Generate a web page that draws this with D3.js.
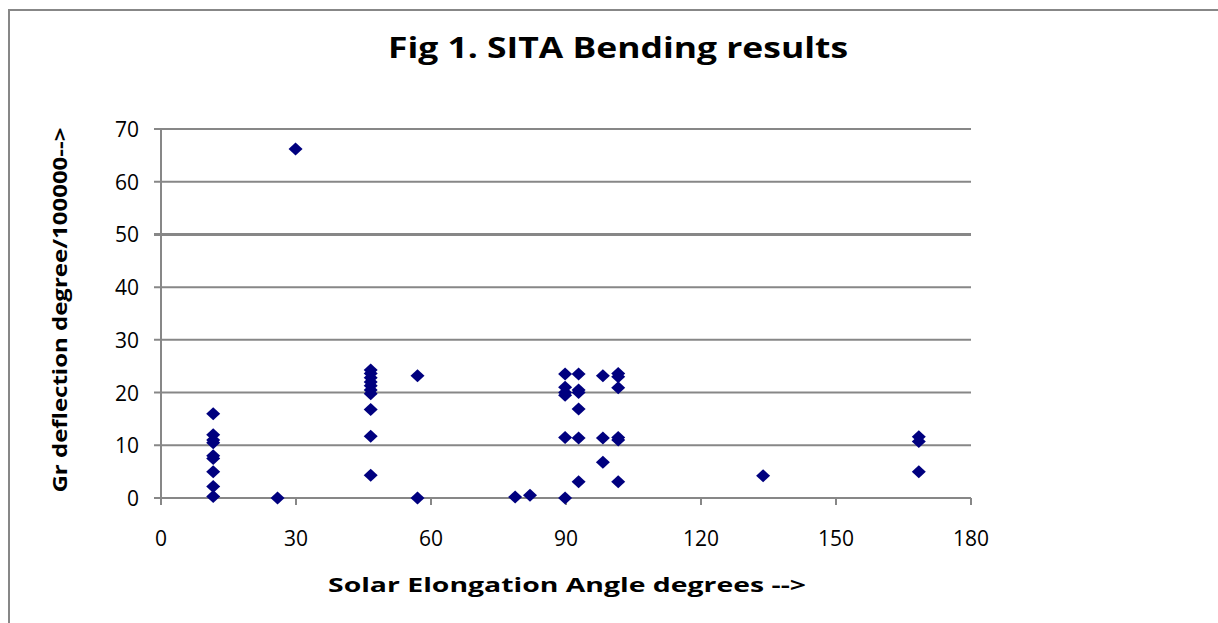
<!DOCTYPE html>
<html>
<head>
<meta charset="utf-8">
<script src="https://cdn.jsdelivr.net/npm/d3@7"></script>
<style>
  body { margin: 0; background: #fff; }
  .tick-label { font-family: "Open Sans", sans-serif; font-size: 21px; fill: #000; }
  .title { font-family: "Open Sans", sans-serif; font-weight: bold; font-size: 28px; }
  .axis-title { font-family: "Open Sans", sans-serif; font-weight: bold; font-size: 20px; }
</style>
</head>
<body>
<div id="chart"></div>
<script>
// elongation angle (deg) and deflection (deg/100000)
var elongation = [
  11.6, 11.6, 11.6, 11.6, 11.6, 11.6, 11.6, 11.6, 11.6,
  25.9, 29.9,
  46.6, 46.6, 46.6, 46.6, 46.6, 46.6, 46.6, 46.6, 46.6, 46.6,
  57, 57,
  78.7, 82,
  89.8, 89.8, 89.8, 89.8, 89.8, 89.8,
  92.8, 92.8, 92.8, 92.8, 92.8, 92.8,
  98.2, 98.2, 98.2,
  101.6, 101.6, 101.6, 101.6, 101.6, 101.6,
  133.8,
  168.4, 168.4, 168.4
];
var deflection = [
  16, 12, 11, 10.5, 8, 7.5, 5, 2.2, 0.3,
  0, 66.2,
  24.3, 23.6, 22.8, 22, 21.3, 20.5, 19.8, 16.8, 11.7, 4.3,
  23.2, 0,
  0.2, 0.5,
  23.5, 21, 20, 19.5, 11.5, 0,
  23.5, 20.5, 20, 16.9, 11.4, 3.1,
  23.2, 11.4, 6.8,
  23.6, 23, 20.9, 11.5, 11, 3.1,
  4.2,
  11.6, 10.7, 5
];
var xTicks = [0, 30, 60, 90, 120, 150, 180];
var yTicks = [0, 10, 20, 30, 40, 50, 60, 70];

var W = 1218, H = 623;
var svg = d3.select("#chart").append("svg")
  .attr("width", W).attr("height", H);

// outer chart border
svg.append("path")
  .attr("d", "M9,630 L9,10 L1230,10")
  .attr("fill", "none")
  .attr("stroke", "#878787")
  .attr("stroke-width", 2);

var x = d3.scaleLinear().domain([0, 180]).range([161, 971]);
var y = d3.scaleLinear().domain([0, 70]).range([498, 129]);

// gridlines
svg.selectAll(".grid")
  .data(yTicks)
  .enter().append("line")
  .attr("x1", 154).attr("x2", x(180))
  .attr("y1", function(d) { return y(d); })
  .attr("y2", function(d) { return y(d); })
  .attr("stroke", "#878787")
  .attr("stroke-width", function(d) { return d == 50 ? 3 : 2; });

// y axis line
svg.append("line")
  .attr("x1", x(0)).attr("x2", x(0))
  .attr("y1", y(70)).attr("y2", y(0) + 7)
  .attr("stroke", "#878787").attr("stroke-width", 2);

// x tick marks
svg.selectAll(".xtick")
  .data(xTicks)
  .enter().append("line")
  .attr("x1", function(d) { return x(d); })
  .attr("x2", function(d) { return x(d); })
  .attr("y1", y(0)).attr("y2", y(0) + 7)
  .attr("stroke", "#878787").attr("stroke-width", 2);

svg.selectAll(".xlab")
  .data(xTicks)
  .enter().append("text")
  .attr("class", "tick-label")
  .attr("x", function(d) { return x(d); })
  .attr("y", 546)
  .attr("text-anchor", "middle")
  .text(function(d) { return d; });

svg.selectAll(".ylab")
  .data(yTicks)
  .enter().append("text")
  .attr("class", "tick-label")
  .attr("x", 139)
  .attr("y", function(d) { return y(d) + 8; })
  .attr("text-anchor", "end")
  .text(function(d) { return d; });

// diamond marker
var diamond = {
  draw: function(ctx) {
    ctx.moveTo(-7, 0); ctx.lineTo(0, -6.5); ctx.lineTo(7, 0); ctx.lineTo(0, 6.5); ctx.closePath();
  }
};

svg.selectAll(".pt")
  .data(elongation)
  .enter().append("path")
  .attr("d", d3.symbol().type(diamond))
  .attr("transform", function(d, i) {
    return "translate(" + x(d) + "," + y(deflection[i]) + ")";
  })
  .attr("fill", "#00007f");

// titles
svg.append("text")
  .attr("class", "title")
  .attr("x", 618).attr("y", 58)
  .attr("text-anchor", "middle")
  .attr("textLength", 460).attr("lengthAdjust", "spacingAndGlyphs")
  .text("Fig 1. SITA Bending results");

svg.append("text")
  .attr("class", "axis-title")
  .attr("x", 567).attr("y", 592)
  .attr("text-anchor", "middle")
  .attr("textLength", 478).attr("lengthAdjust", "spacingAndGlyphs")
  .text("Solar Elongation Angle degrees -->");

svg.append("text")
  .attr("class", "axis-title")
  .attr("transform", "translate(67,310) rotate(-90)")
  .attr("text-anchor", "middle")
  .attr("textLength", 365).attr("lengthAdjust", "spacingAndGlyphs")
  .text("Gr deflection degree/100000-->");
</script>
</body>
</html>
